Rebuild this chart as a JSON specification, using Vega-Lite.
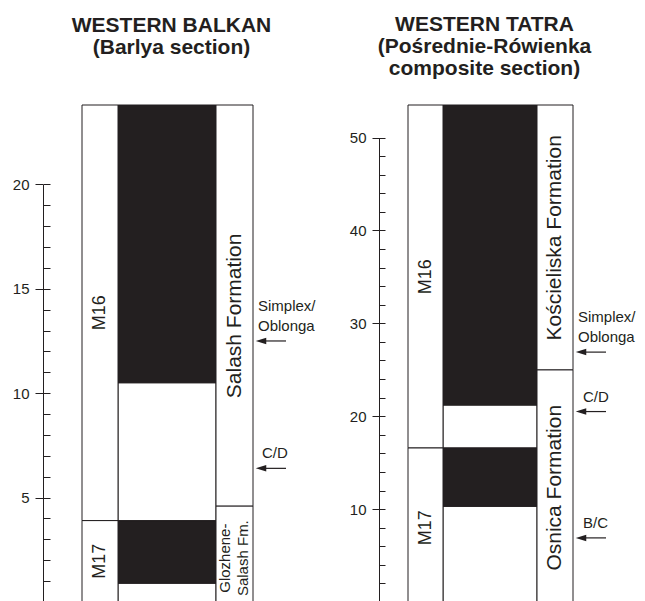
{
  "$schema": "https://vega.github.io/schema/vega-lite/v6.json",
  "padding": {"left": 12, "top": 13, "right": 7, "bottom": 0},
  "background": "white",
  "bounds": "flush",
  "spacing": 155,
  "config": {"view": {"stroke": null}, "font": "Liberation Sans"},
  "datasets": {
    "balkan_zones": [
      {"zone": "M17", "bottom": 0, "top": 3.9, "label_at": 1.95},
      {"zone": "M16", "bottom": 3.9, "top": 23.8, "label_at": 13.85}
    ],
    "balkan_polarity": [
      {"polarity": "reversed", "bottom": 0, "top": 0.9},
      {"polarity": "normal", "bottom": 0.9, "top": 3.9},
      {"polarity": "reversed", "bottom": 3.9, "top": 10.5},
      {"polarity": "normal", "bottom": 10.5, "top": 23.8}
    ],
    "balkan_formations": [
      {"formation": "Glozhene-Salash Fm.", "label": "Glozhene-\nSalash Fm.", "bottom": 0, "top": 4.6, "label_at": 2.1},
      {"formation": "Salash Formation", "label": "Salash Formation", "bottom": 4.6, "top": 23.8, "label_at": 13.7}
    ],
    "balkan_events": [
      {"event": "Simplex/\nOblonga", "level": 12.5},
      {"event": "C/D", "level": 6.4}
    ],
    "tatra_zones": [
      {"zone": "M17", "bottom": 0, "top": 16.6, "label_at": 8.0},
      {"zone": "M16", "bottom": 16.6, "top": 53.5, "label_at": 35.0}
    ],
    "tatra_polarity": [
      {"polarity": "reversed", "bottom": 0, "top": 10.3},
      {"polarity": "normal", "bottom": 10.3, "top": 16.6},
      {"polarity": "reversed", "bottom": 16.6, "top": 21.2},
      {"polarity": "normal", "bottom": 21.2, "top": 53.5}
    ],
    "tatra_formations": [
      {"formation": "Osnica Formation", "label": "Osnica Formation", "bottom": 0, "top": 25.0, "label_at": 12.3},
      {"formation": "Kościeliska Formation", "label": "Kościeliska Formation", "bottom": 25.0, "top": 53.5, "label_at": 39.2}
    ],
    "tatra_events": [
      {"event": "Simplex/\nOblonga", "level": 26.9},
      {"event": "C/D", "level": 20.5},
      {"event": "B/C", "level": 6.9}
    ]
  },
  "hconcat": [
    {
      "title": {"text": ["WESTERN BALKAN", "(Barlya section)"], "frame": "group", "anchor": "middle", "fontSize": 21, "fontWeight": "bold", "lineHeight": 22, "baseline": "bottom", "offset": 26, "dx": 4, "color": "#231f20", "font": "Liberation Sans"},
      "width": 171,
      "height": 497,
      "resolve": {"axis": {"y": "independent"}},
      "layer": [
        {
          "data": {"name": "balkan_polarity"},
          "mark": {"type": "rect", "stroke": "#231f20", "strokeWidth": 1},
          "encoding": {
            "x": {"datum": 36, "type": "quantitative", "scale": {"domain": [0, 171], "nice": false, "zero": false}, "axis": null},
            "x2": {"datum": 134},
            "y": {"field": "bottom", "type": "quantitative", "scale": {"domain": [0, 23.8], "nice": false, "zero": false},
              "axis": {"orient": "left", "offset": 39, "values": [5, 10, 15, 20], "tickSize": 8, "labelPadding": 6, "labelFontSize": 15, "labelFont": "Liberation Sans", "labelColor": "#231f20", "tickColor": "#231f20", "tickWidth": 1, "domain": false, "grid": false, "title": null, "labelFlush": false, "labelOverlap": false}},
            "y2": {"field": "top"},
            "color": {"field": "polarity", "type": "nominal", "scale": {"domain": ["normal", "reversed"], "range": ["#231f20", "#ffffff"]}, "legend": null}
          }
        },
        {
          "data": {"name": "balkan_zones"},
          "mark": {"type": "rect", "fill": "white", "stroke": "#231f20", "strokeWidth": 1},
          "encoding": {
            "x": {"datum": 0, "type": "quantitative", "scale": {"domain": [0, 171], "nice": false, "zero": false}, "axis": null},
            "x2": {"datum": 36},
            "y": {"field": "bottom", "type": "quantitative", "scale": {"domain": [0, 23.8], "nice": false, "zero": false},
              "axis": {"orient": "left", "offset": 39, "values": [1,2,3,4,5,6,7,8,9,10,11,12,13,14,15,16,17,18,19,20], "tickSize": -7, "labels": false, "domain": true, "domainDash": [417.6, 2000], "domainColor": "#231f20", "domainWidth": 1, "tickColor": "#231f20", "tickWidth": 1, "grid": false, "title": null}},
            "y2": {"field": "top"}
          }
        },
        {
          "data": {"name": "balkan_formations"},
          "mark": {"type": "rect", "fill": "white", "stroke": "#231f20", "strokeWidth": 1},
          "encoding": {
            "x": {"datum": 134, "type": "quantitative", "scale": {"domain": [0, 171], "nice": false, "zero": false}, "axis": null},
            "x2": {"datum": 171},
            "y": {"field": "bottom", "type": "quantitative", "scale": {"domain": [0, 23.8], "nice": false, "zero": false}, "axis": null},
            "y2": {"field": "top"}
          }
        },
        {
          "data": {"name": "balkan_zones"},
          "mark": {"type": "text", "angle": 270, "align": "center", "baseline": "middle", "fontSize": 18, "color": "#231f20"},
          "encoding": {
            "x": {"datum": 18, "type": "quantitative", "scale": {"domain": [0, 171], "nice": false, "zero": false}, "axis": null},
            "y": {"field": "label_at", "type": "quantitative", "scale": {"domain": [0, 23.8], "nice": false, "zero": false}, "axis": null},
            "text": {"field": "zone"}
          }
        },
        {
          "data": {"name": "balkan_formations"},
          "transform": [{"filter": "datum.formation !== 'Glozhene-Salash Fm.'"}],
          "mark": {"type": "text", "angle": 270, "align": "center", "baseline": "middle", "fontSize": 21, "color": "#231f20"},
          "encoding": {
            "x": {"datum": 152.5, "type": "quantitative", "scale": {"domain": [0, 171], "nice": false, "zero": false}, "axis": null},
            "y": {"field": "label_at", "type": "quantitative", "scale": {"domain": [0, 23.8], "nice": false, "zero": false}, "axis": null},
            "text": {"field": "label"}
          }
        },
        {
          "data": {"name": "balkan_formations"},
          "transform": [{"filter": "datum.formation === 'Glozhene-Salash Fm.'"}],
          "mark": {"type": "text", "angle": 270, "align": "center", "baseline": "middle", "fontSize": 15, "lineBreak": "\n", "lineHeight": 18, "color": "#231f20"},
          "encoding": {
            "x": {"datum": 143, "type": "quantitative", "scale": {"domain": [0, 171], "nice": false, "zero": false}, "axis": null},
            "y": {"field": "label_at", "type": "quantitative", "scale": {"domain": [0, 23.8], "nice": false, "zero": false}, "axis": null},
            "text": {"field": "label"}
          }
        },
        {
          "data": {"name": "balkan_events"},
          "mark": {"type": "rule", "color": "#231f20", "strokeWidth": 1.2},
          "encoding": {
            "x": {"datum": 179, "type": "quantitative", "scale": {"domain": [0, 171], "nice": false, "zero": false}, "axis": null},
            "x2": {"datum": 204},
            "y": {"field": "level", "type": "quantitative", "scale": {"domain": [0, 23.8], "nice": false, "zero": false}, "axis": null}
          }
        },
        {
          "data": {"name": "balkan_events"},
          "mark": {"type": "point", "shape": "M -1 0 L 1 -0.62 L 1 0.62 Z", "filled": true, "size": 110, "color": "#231f20", "opacity": 1, "strokeWidth": 0},
          "encoding": {
            "x": {"datum": 179, "type": "quantitative", "scale": {"domain": [0, 171], "nice": false, "zero": false}, "axis": null},
            "y": {"field": "level", "type": "quantitative", "scale": {"domain": [0, 23.8], "nice": false, "zero": false}, "axis": null}
          }
        },
        {
          "data": {"name": "balkan_events"},
          "transform": [{"filter": "indexof(datum.event, 'Oblonga') >= 0"}],
          "mark": {"type": "text", "align": "left", "baseline": "alphabetic", "dy": -30, "fontSize": 15, "lineBreak": "\n", "lineHeight": 20, "color": "#231f20"},
          "encoding": {
            "x": {"datum": 176, "type": "quantitative", "scale": {"domain": [0, 171], "nice": false, "zero": false}, "axis": null},
            "y": {"field": "level", "type": "quantitative", "scale": {"domain": [0, 23.8], "nice": false, "zero": false}, "axis": null},
            "text": {"field": "event"}
          }
        },
        {
          "data": {"name": "balkan_events"},
          "transform": [{"filter": "indexof(datum.event, 'Oblonga') < 0"}],
          "mark": {"type": "text", "align": "left", "baseline": "alphabetic", "dy": -10, "fontSize": 15, "color": "#231f20"},
          "encoding": {
            "x": {"datum": 180, "type": "quantitative", "scale": {"domain": [0, 171], "nice": false, "zero": false}, "axis": null},
            "y": {"field": "level", "type": "quantitative", "scale": {"domain": [0, 23.8], "nice": false, "zero": false}, "axis": null},
            "text": {"field": "event"}
          }
        }
      ]
    },
    {
      "title": {"text": ["WESTERN TATRA", "(Pośrednie-Rówienka", "composite section)"], "frame": "group", "anchor": "middle", "fontSize": 21, "fontWeight": "bold", "lineHeight": 22, "baseline": "bottom", "offset": 5, "dx": -6, "color": "#231f20", "font": "Liberation Sans"},
      "width": 165,
      "height": 497,
      "resolve": {"axis": {"y": "independent"}},
      "layer": [
        {
          "data": {"name": "tatra_polarity"},
          "mark": {"type": "rect", "stroke": "#231f20", "strokeWidth": 1},
          "encoding": {
            "x": {"datum": 35, "type": "quantitative", "scale": {"domain": [0, 165], "nice": false, "zero": false}, "axis": null},
            "x2": {"datum": 129},
            "y": {"field": "bottom", "type": "quantitative", "scale": {"domain": [0, 53.5], "nice": false, "zero": false},
              "axis": {"orient": "left", "offset": 29, "values": [10, 20, 30, 40, 50], "tickSize": 7, "labelPadding": 6, "labelFontSize": 15, "labelFont": "Liberation Sans", "labelColor": "#231f20", "tickColor": "#231f20", "tickWidth": 1, "domain": false, "grid": false, "title": null, "labelFlush": false, "labelOverlap": false}},
            "y2": {"field": "top"},
            "color": {"field": "polarity", "type": "nominal", "scale": {"domain": ["normal", "reversed"], "range": ["#231f20", "#ffffff"]}, "legend": null}
          }
        },
        {
          "data": {"name": "tatra_zones"},
          "mark": {"type": "rect", "fill": "white", "stroke": "#231f20", "strokeWidth": 1},
          "encoding": {
            "x": {"datum": 0, "type": "quantitative", "scale": {"domain": [0, 165], "nice": false, "zero": false}, "axis": null},
            "x2": {"datum": 35},
            "y": {"field": "bottom", "type": "quantitative", "scale": {"domain": [0, 53.5], "nice": false, "zero": false},
              "axis": {"orient": "left", "offset": 29, "values": [2,4,6,8,10,12,14,16,18,20,22,24,26,28,30,32,34,36,38,40,42,44,46,48,50], "tickSize": -6, "labels": false, "domain": true, "domainDash": [464.5, 2000], "domainColor": "#231f20", "domainWidth": 1, "tickColor": "#231f20", "tickWidth": 1, "grid": false, "title": null}},
            "y2": {"field": "top"}
          }
        },
        {
          "data": {"name": "tatra_formations"},
          "mark": {"type": "rect", "fill": "white", "stroke": "#231f20", "strokeWidth": 1},
          "encoding": {
            "x": {"datum": 129, "type": "quantitative", "scale": {"domain": [0, 165], "nice": false, "zero": false}, "axis": null},
            "x2": {"datum": 165},
            "y": {"field": "bottom", "type": "quantitative", "scale": {"domain": [0, 53.5], "nice": false, "zero": false}, "axis": null},
            "y2": {"field": "top"}
          }
        },
        {
          "data": {"name": "tatra_zones"},
          "mark": {"type": "text", "angle": 270, "align": "center", "baseline": "middle", "fontSize": 18, "color": "#231f20"},
          "encoding": {
            "x": {"datum": 17.5, "type": "quantitative", "scale": {"domain": [0, 165], "nice": false, "zero": false}, "axis": null},
            "y": {"field": "label_at", "type": "quantitative", "scale": {"domain": [0, 53.5], "nice": false, "zero": false}, "axis": null},
            "text": {"field": "zone"}
          }
        },
        {
          "data": {"name": "tatra_formations"},
          "mark": {"type": "text", "angle": 270, "align": "center", "baseline": "middle", "fontSize": 21, "color": "#231f20"},
          "encoding": {
            "x": {"datum": 147, "type": "quantitative", "scale": {"domain": [0, 165], "nice": false, "zero": false}, "axis": null},
            "y": {"field": "label_at", "type": "quantitative", "scale": {"domain": [0, 53.5], "nice": false, "zero": false}, "axis": null},
            "text": {"field": "label"}
          }
        },
        {
          "data": {"name": "tatra_events"},
          "mark": {"type": "rule", "color": "#231f20", "strokeWidth": 1.2},
          "encoding": {
            "x": {"datum": 173, "type": "quantitative", "scale": {"domain": [0, 165], "nice": false, "zero": false}, "axis": null},
            "x2": {"datum": 198},
            "y": {"field": "level", "type": "quantitative", "scale": {"domain": [0, 53.5], "nice": false, "zero": false}, "axis": null}
          }
        },
        {
          "data": {"name": "tatra_events"},
          "mark": {"type": "point", "shape": "M -1 0 L 1 -0.62 L 1 0.62 Z", "filled": true, "size": 110, "color": "#231f20", "opacity": 1, "strokeWidth": 0},
          "encoding": {
            "x": {"datum": 173, "type": "quantitative", "scale": {"domain": [0, 165], "nice": false, "zero": false}, "axis": null},
            "y": {"field": "level", "type": "quantitative", "scale": {"domain": [0, 53.5], "nice": false, "zero": false}, "axis": null}
          }
        },
        {
          "data": {"name": "tatra_events"},
          "transform": [{"filter": "indexof(datum.event, 'Oblonga') >= 0"}],
          "mark": {"type": "text", "align": "left", "baseline": "alphabetic", "dy": -30, "fontSize": 15, "lineBreak": "\n", "lineHeight": 20, "color": "#231f20"},
          "encoding": {
            "x": {"datum": 170, "type": "quantitative", "scale": {"domain": [0, 165], "nice": false, "zero": false}, "axis": null},
            "y": {"field": "level", "type": "quantitative", "scale": {"domain": [0, 53.5], "nice": false, "zero": false}, "axis": null},
            "text": {"field": "event"}
          }
        },
        {
          "data": {"name": "tatra_events"},
          "transform": [{"filter": "indexof(datum.event, 'Oblonga') < 0"}],
          "mark": {"type": "text", "align": "left", "baseline": "alphabetic", "dy": -10, "fontSize": 15, "color": "#231f20"},
          "encoding": {
            "x": {"datum": 175, "type": "quantitative", "scale": {"domain": [0, 165], "nice": false, "zero": false}, "axis": null},
            "y": {"field": "level", "type": "quantitative", "scale": {"domain": [0, 53.5], "nice": false, "zero": false}, "axis": null},
            "text": {"field": "event"}
          }
        }
      ]
    }
  ]
}
